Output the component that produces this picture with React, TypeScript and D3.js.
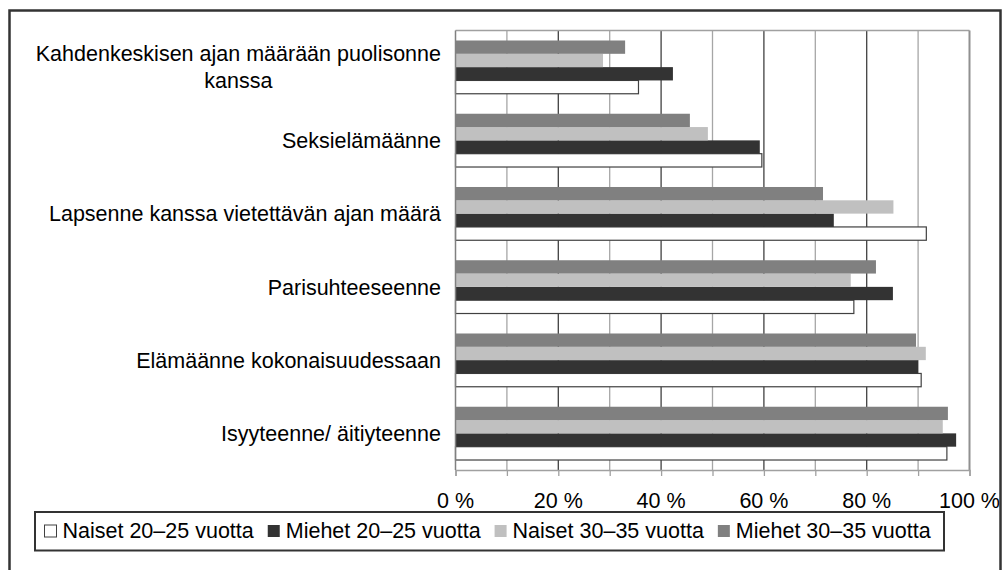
import React, { useEffect, useRef } from "react";
import * as d3 from "d3";

const categoryLines: string[][] = [
  ["Kahdenkeskisen ajan määrään puolisonne", "kanssa"],
  ["Seksielämäänne"],
  ["Lapsenne kanssa vietettävän ajan määrä"],
  ["Parisuhteeseenne"],
  ["Elämäänne kokonaisuudessaan"],
  ["Isyyteenne/ äitiyteenne"],
];

const seriesNames = [
  "Naiset 20–25 vuotta",
  "Miehet 20–25 vuotta",
  "Naiset 30–35 vuotta",
  "Miehet 30–35 vuotta",
];

const naiset2025 = [35.6, 59.6, 91.6, 77.5, 90.6, 95.6];
const miehet2025 = [42.3, 59.2, 73.6, 85.1, 90.0, 97.4];
const naiset3035 = [28.7, 49.1, 85.2, 76.9, 91.5, 94.8];
const miehet3035 = [33.0, 45.6, 71.5, 81.8, 89.6, 95.8];

const seriesValues = [naiset2025, miehet2025, naiset3035, miehet3035];
const seriesColors = ["#ffffff", "#333333", "#c0c0c0", "#808080"];

const gridTicks = [0, 10, 20, 30, 40, 50, 60, 70, 80, 90, 100];
const labelTicks = [0, 20, 40, 60, 80, 100];

const FONT = "'Liberation Sans', Arial, sans-serif";
const FS = 21.5;

export default function App() {
  const ref = useRef<SVGSVGElement>(null);

  useEffect(() => {
    const svg = d3.select(ref.current);
    svg.selectAll("*").remove();

    const left = 455.5, right = 969.5, top = 30.5, bottom = 470;
    const x = d3.scaleLinear().domain([0, 100]).range([left, right]);
    const n = categoryLines.length;
    const gap = 1.5 / 5.5;
    const y = d3
      .scaleBand<number>()
      .domain(d3.range(n))
      .range([top, bottom])
      .paddingInner(gap)
      .paddingOuter(gap / 2);
    // series order from top: last series first
    const ySeries = d3
      .scaleBand<number>()
      .domain([3, 2, 1, 0])
      .range([0, y.bandwidth()])
      .padding(0);

    svg.append("rect").attr("width", 1003).attr("height", 570).attr("fill", "#fff");

    // gridlines
    svg
      .append("g")
      .selectAll("line")
      .data(gridTicks.filter((t) => t > 0 && t < 100))
      .join("line")
      .attr("x1", (d) => x(d))
      .attr("x2", (d) => x(d))
      .attr("y1", top)
      .attr("y2", bottom)
      .attr("stroke", (d) => (d % 20 === 0 ? "#404040" : "#a6a6a6"))
      .attr("stroke-width", 1.3);

    // plot border top/right
    svg.append("line").attr("x1", left).attr("x2", right).attr("y1", top).attr("y2", top)
      .attr("stroke", "#a0a0a0").attr("stroke-width", 1.5);
    svg.append("line").attr("x1", right).attr("x2", right).attr("y1", top).attr("y2", bottom)
      .attr("stroke", "#909090").attr("stroke-width", 2);

    // bars
    seriesValues.forEach((vals, s) => {
      svg
        .append("g")
        .selectAll("rect")
        .data(vals)
        .join("rect")
        .attr("x", x(0))
        .attr("y", (_, i) => (y(i) as number) + (ySeries(s) as number))
        .attr("width", (d) => x(d) - x(0))
        .attr("height", ySeries.bandwidth())
        .attr("fill", seriesColors[s])
        .attr("stroke", s === 0 ? "#404040" : "none")
        .attr("stroke-width", s === 0 ? 1.2 : 0);
    });

    // axes
    const xAxis = d3
      .axisBottom(x)
      .tickValues(gridTicks)
      .tickSize(6)
      .tickFormat(() => "");
    const ga = svg.append("g").attr("transform", `translate(0,${bottom})`).call(xAxis);
    ga.select(".domain").attr("stroke", "#a0a0a0").attr("stroke-width", 1.5);
    ga.selectAll(".tick line").attr("stroke", "#a0a0a0").attr("stroke-width", 1.3);

    svg.append("line").attr("x1", left).attr("x2", left).attr("y1", top).attr("y2", bottom)
      .attr("stroke", "#808080").attr("stroke-width", 1.5);

    svg
      .append("g")
      .selectAll("text")
      .data(labelTicks)
      .join("text")
      .attr("x", (d) => x(d))
      .attr("y", 507.5)
      .attr("text-anchor", "middle")
      .attr("font-family", FONT)
      .attr("font-size", FS)
      .attr("fill", "#000")
      .text((d) => `${d} %`);

    // category labels
    const labelRight = 441;
    const lineH = 27;
    categoryLines.forEach((lines, i) => {
      const cy = (y(i) as number) + y.bandwidth() / 2;
      const g = svg.append("g");
      const texts = lines.map((ln, k) =>
        g
          .append("text")
          .attr("x", 0)
          .attr("y", cy + 7.7 + (k - (lines.length - 1) / 2) * lineH)
          .attr("text-anchor", "middle")
          .attr("font-family", FONT)
          .attr("font-size", FS)
          .attr("fill", "#000")
          .text(ln)
      );
      const maxW = d3.max(texts, (t) => (t.node() as SVGTextElement).getComputedTextLength()) || 0;
      g.attr("transform", `translate(${labelRight - maxW / 2},0)`);
    });

    // legend
    const lg = svg.append("g");
    lg.append("rect")
      .attr("x", 35)
      .attr("y", 512)
      .attr("width", 909)
      .attr("height", 38.5)
      .attr("fill", "#fff")
      .attr("stroke", "#333")
      .attr("stroke-width", 2);
    let cx = 44;
    const base = 537.5;
    seriesNames.forEach((name, s) => {
      lg.append("rect")
        .attr("x", cx + 0.5)
        .attr("y", base - 12.5)
        .attr("width", 12)
        .attr("height", 12)
        .attr("fill", seriesColors[s])
        .attr("stroke", s === 0 ? "#404040" : "none")
        .attr("stroke-width", 1);
      const t = lg
        .append("text")
        .attr("x", cx + 18.5)
        .attr("y", base)
        .attr("font-family", FONT)
        .attr("font-size", FS)
        .attr("fill", "#000")
        .text(name);
      const w = (t.node() as SVGTextElement).getComputedTextLength();
      cx = cx + 18.5 + w + 13.5;
    });

    // outer frame
    svg.append("rect")
      .attr("x", 9.5)
      .attr("y", 10.5)
      .attr("width", 991)
      .attr("height", 600)
      .attr("fill", "none")
      .attr("stroke", "#333")
      .attr("stroke-width", 2.5);
  }, []);

  return (
    <svg
      ref={ref}
      width={1003}
      height={570}
      style={{ position: "absolute", left: 0, top: 0, display: "block" }}
    />
  );
}
